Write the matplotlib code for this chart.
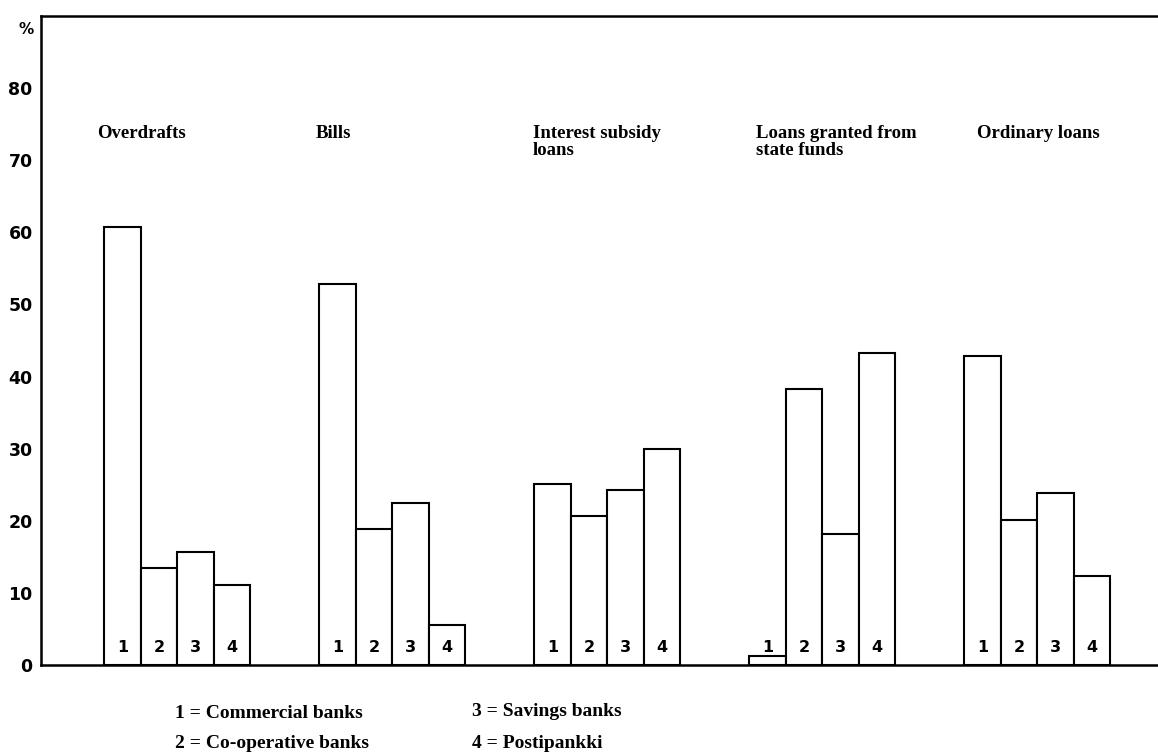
import matplotlib.pyplot as plt

groups = ["Overdrafts", "Bills", "Interest subsidy\nloans",
          "Loans granted from\nstate funds", "Ordinary loans"]
bank_codes = ["1", "2", "3", "4"]
commercial = [60.7, 52.9, 25.1, 1.3, 42.8]
cooperative = [13.5, 18.8, 20.6, 38.3, 20.1]
savings = [15.7, 22.4, 24.3, 18.2, 23.9]
postipankki = [11.1, 5.6, 30.0, 43.2, 12.4]
legend_items = ["1 = Commercial banks", "2 = Co-operative banks",
                "3 = Savings banks", "4 = Postipankki"]
yticks = [0, 10, 20, 30, 40, 50, 60, 70, 80]

series = [commercial, cooperative, savings, postipankki]

fig = plt.figure(figsize=(11.58, 7.52), dpi=100)
ax = fig.add_axes([41 / 1158, 1 - 665 / 752, 1 - 41 / 1158, (665 - 16) / 752])

sans = "DejaVu Sans"
serif = "Liberation Serif"

group_step = 5.89
first = 1.73
title_shift = [-0.2, -0.1, -0.03, 0.2, 0.35]

for g, name in enumerate(groups):
    start = first + g * group_step
    for j, vals in enumerate(series):
        ax.bar(start + j, vals[g], width=1.0, align="edge",
               facecolor="white", edgecolor="black", linewidth=1.5)
        ax.text(start + j + 0.5, 2.4, bank_codes[j], ha="center", va="center",
                fontsize=11.5, fontweight="bold", family=sans)
    ax.text(start + title_shift[g], 74.9, name, ha="left", va="top",
            fontsize=13.5, fontweight="bold", family=serif, linespacing=1.0)

ax.set_xlim(0, (1158 - 41) / 36.5)
ax.set_ylim(0, 90)
ax.set_xticks([])
ax.set_yticks(yticks)
ax.set_yticklabels([str(t) for t in yticks], fontsize=12.5,
                   fontweight="bold", family=sans)
ax.tick_params(axis="y", length=0, pad=6)
ax.spines["right"].set_visible(False)
for s in ["left", "top", "bottom"]:
    ax.spines[s].set_linewidth(1.8)

fig.text(26 / 1158, 1 - 29 / 752, "%", ha="center", va="center",
         fontsize=11, fontweight="bold", family=sans)

legend_pos = [(175, 713), (175, 744), (472, 712), (472, 744)]
for txt, (px, py) in zip(legend_items, legend_pos):
    fig.text(px / 1158, 1 - py / 752, txt, ha="left", va="center",
             fontsize=14, fontweight="bold", family=serif)

fig.savefig("out.png", dpi=100)
